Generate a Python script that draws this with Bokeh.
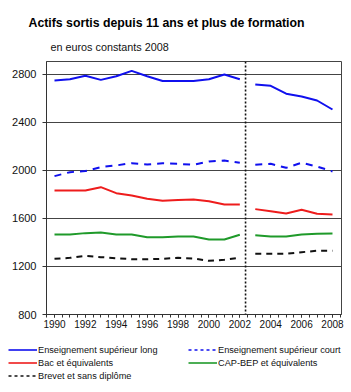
from bokeh.plotting import figure
from bokeh.models import (FixedTicker, Span, Title, Legend, LegendItem, Range1d)
from bokeh.layouts import column
from bokeh.embed import file_html
from bokeh.resources import INLINE

# ---- data ----
years_a = [1990, 1991, 1992, 1993, 1994, 1995, 1996, 1997, 1998, 1999, 2000, 2001, 2002]
years_b = [2003, 2004, 2005, 2006, 2007, 2008]

sup_long_a = [2750, 2760, 2790, 2755, 2785, 2830, 2785, 2745, 2745, 2745, 2760, 2800, 2760]
sup_long_b = [2717, 2705, 2640, 2617, 2583, 2508]

sup_court_a = [1953, 1986, 1995, 2028, 2042, 2061, 2050, 2060, 2055, 2048, 2075, 2083, 2064]
sup_court_b = [2048, 2056, 2022, 2064, 2033, 1992]

bac_a = [1833, 1833, 1833, 1861, 1811, 1792, 1764, 1747, 1753, 1758, 1744, 1717, 1717]
bac_b = [1678, 1661, 1642, 1672, 1639, 1633]

cap_a = [1467, 1467, 1478, 1483, 1467, 1467, 1444, 1444, 1450, 1450, 1425, 1425, 1464]
cap_b = [1461, 1450, 1450, 1467, 1472, 1475]

brevet_a = [1264, 1272, 1289, 1278, 1269, 1261, 1261, 1264, 1272, 1267, 1247, 1256, 1272]
brevet_b = [1306, 1306, 1306, 1319, 1331, 1331]

y_ticks = [800, 1200, 1600, 2000, 2400, 2800]
x_ticks = [1990, 1992, 1994, 1996, 1998, 2000, 2002, 2004, 2006, 2008]
break_year = 2002.37

title_text = "Actifs sortis depuis 11 ans et plus de formation"
subtitle_text = "en euros constants 2008"
names = ["Enseignement supérieur long", "Enseignement supérieur court",
         "Bac et équivalents", "CAP-BEP et équivalents", "Brevet et sans diplôme"]

FONT = "Liberation Sans"

colors = ["#1010ee", "#1010ee", "#ee1c1c", "#1f9a2a", "#111111"]
dashes = ["solid", "7 6", "solid", "solid", "6 5"]
legend_dashes = ["solid", "3 3", "solid", "solid", "3 3"]

p = figure(width=351, height=337, output_backend="svg", toolbar_location=None,
           x_range=Range1d(1989.482, 2008.583), y_range=Range1d(800, 2908),
           min_border_left=46, min_border_right=10, min_border_top=61, min_border_bottom=23)
p.frame_align = False
p.title.visible = False
p.outline_line_color = "#444444"
p.outline_line_width = 1

# axes
p.yaxis.ticker = FixedTicker(ticks=y_ticks)
p.xaxis.ticker = FixedTicker(ticks=x_ticks, minor_ticks=[1989.5 + 0.5 * i for i in range(39)])
for ax in (p.xaxis[0], p.yaxis[0]):
    ax.axis_line_color = "#333333"
    ax.major_tick_line_color = "#333333"
    ax.minor_tick_line_color = "#333333"
    ax.major_label_text_font = FONT
    ax.major_label_text_color = "#111111"
p.yaxis.major_tick_out = 4
p.yaxis.major_tick_in = 0
p.yaxis.minor_tick_out = 0
p.yaxis.major_label_text_font_size = "11px"
p.yaxis.major_label_standoff = 6
p.xaxis.major_tick_out = 3
p.xaxis.major_tick_in = 0
p.xaxis.minor_tick_out = 3
p.xaxis.minor_tick_in = 0
p.xaxis.major_label_text_font_size = "10px"
p.xaxis.major_label_standoff = 2

p.xgrid.visible = False
p.ygrid.grid_line_color = "#444444"
p.ygrid.grid_line_width = 1

# series (two segments each, split at the break)
series = [(sup_long_a, sup_long_b), (sup_court_a, sup_court_b), (bac_a, bac_b),
          (cap_a, cap_b), (brevet_a, brevet_b)]
for (va, vb), c, d in zip(series, colors, dashes):
    p.line(years_a, va, line_color=c, line_width=2, line_dash=d)
    p.line(years_b, vb, line_color=c, line_width=2, line_dash=d)

p.add_layout(Span(location=break_year, dimension="height", line_color="#111111",
                  line_width=1.6, line_dash="2 2"))

# titles (subtitle first: closest to the plot)
p.add_layout(Title(text=subtitle_text, align="left", offset=4, text_font=FONT,
                   text_font_size="10.8px", text_font_style="normal",
                   text_color="#111111", standoff=17), "above")
p.add_layout(Title(text=title_text, align="left", offset=-18, text_font=FONT,
                   text_font_size="12.3px", text_font_style="bold",
                   text_color="#000000", standoff=2), "above")

# legend strip below the chart
q = figure(width=351, height=55, output_backend="svg", toolbar_location=None,
           x_range=Range1d(0, 1), y_range=Range1d(0, 1),
           x_axis_location=None, y_axis_location=None,
           min_border_left=0, min_border_right=0, min_border_top=0, min_border_bottom=0)
q.frame_align = False
q.title.visible = False
q.outline_line_color = None
q.grid.visible = False
nan = float("nan")
dummies = [q.line([nan], [nan], line_color=c, line_width=1.6, line_dash=d)
           for c, d in zip(colors, legend_dashes)]

def make_legend(idx, loc):
    return Legend(items=[LegendItem(label=names[i], renderers=[dummies[i]], index=0) for i in idx],
                  location=loc, orientation="vertical",
                  glyph_width=29, glyph_height=11, label_height=11, label_standoff=1,
                  spacing=2, padding=0, margin=0,
                  border_line_alpha=0, background_fill_alpha=0, label_text_font=FONT,
                  label_text_font_size="9.2px", label_text_color="#111111")

q.add_layout(make_legend([0, 2, 4], (8, 11)))
q.add_layout(make_legend([1, 3], (188, 24)))

layout = column(p, q, spacing=0)
open("out.html", "w").write(file_html(layout, INLINE))
